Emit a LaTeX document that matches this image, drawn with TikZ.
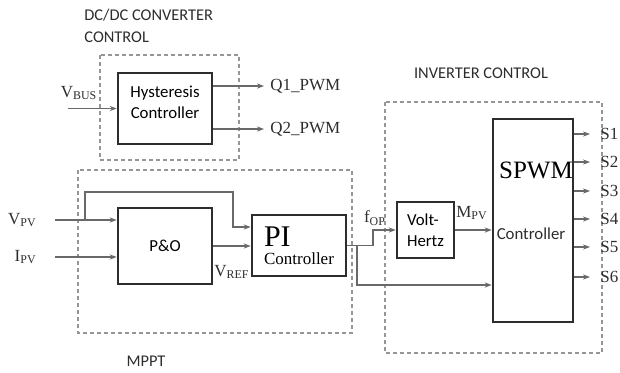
\documentclass[tikz,border=0pt]{standalone}
\usepackage{fontspec}
\setmainfont{Liberation Serif}
\setsansfont{Carlito}
\usetikzlibrary{arrows.meta,positioning,calc}
\definecolor{frameGray}{RGB}{150,150,150}
\definecolor{wireGray}{RGB}{105,105,105}
\definecolor{boxBlack}{RGB}{45,45,45}

\begin{document}
\begin{tikzpicture}[
    x=0.5pt, y=-0.5pt,
    box/.style={rectangle, draw=boxBlack, line width=1.3pt, inner sep=0pt, font=\fontsize{8.4}{10.5}\selectfont\sffamily},
    frame/.style={draw=frameGray, line width=1pt, dash pattern=on 2pt off 1.5pt},
    wire/.style={draw=wireGray, line width=0.55pt},
    arrow/.style={wire, -{Stealth[length=3.5pt, width=2.6pt]}},
    lbl/.style={font=\fontsize{8.5}{10}\selectfont, inner sep=0pt, text=boxBlack},
    title/.style={font=\fontsize{8.2}{11}\selectfont\sffamily, inner sep=0pt, align=left, text=boxBlack}
]
    \useasboundingbox (0,0) rectangle (620,372);
    % dashed group frames
    \draw[frame] (100,55) rectangle (239,160);
    \draw[frame] (78,170) rectangle (352,333);
    \draw[frame] (385,102) rectangle (602,353);
    \node[title, anchor=north west] (dctitle) at (84,9) {DC/DC CONVERTER\\CONTROL};
    \node[title] (invtitle) at (481,73) {INVERTER CONTROL};
    \node[title] (mppttitle) at (146,361) {MPPT};

    % blocks
    \node[box, minimum width=47pt, minimum height=35.5pt, align=center, text depth=6pt] (hyst) at (165,108.5) {Hysteresis\\Controller};
    \node[box, minimum width=47pt, minimum height=38pt] (pando) at (165,246) {P\&O};
    \node[box, minimum width=47pt, minimum height=30.5pt, align=left, font=\fontsize{8.5}{10}\selectfont\rmfamily] (pi) at (299,245.5) {{\fontsize{15}{15}\selectfont PI}\\[-1pt]Controller};
    \node[box, minimum width=28.5pt, minimum height=28pt, align=left] (vh) at (425.5,230) {Volt-\\Hertz};
    \node[box, minimum width=40pt, minimum height=101.5pt] (spwm) at (533,220.5) {};
    \node[inner sep=0pt, font=\fontsize{12.5}{12.5}\selectfont] (spwmtxt) at ($(spwm.center)+(3,-50)$) {SPWM};
    \node[inner sep=0pt, font=\fontsize{8.4}{10}\selectfont\sffamily, text=boxBlack] (spwmctl) at ($(spwm.center)+(-2,13)$) {Controller};

    % DC/DC signals
    \coordinate (vbusin) at (68,108.5);
    \draw[arrow] (vbusin) -- (hyst.west);
    \node[lbl] (vbus) at (79,93) {V\textsubscript{BUS}};
    \coordinate (q1end) at (264,86);
    \coordinate (q2end) at (264,129);
    \draw[arrow] (q1end -| hyst.east) -- (q1end);
    \draw[arrow] (q2end -| hyst.east) -- (q2end);
    \node[lbl, right=3pt of q1end] (q1) {Q1\_PWM};
    \node[lbl, right=3pt of q2end] (q2) {Q2\_PWM};

    % MPPT signals
    \coordinate (vpvin) at (55,220);
    \coordinate (ipvin) at (55,257);
    \draw[arrow] (vpvin) -- (vpvin -| pando.west);
    \draw[arrow] (ipvin) -- (ipvin -| pando.west);
    \node[lbl, left=9pt of vpvin] (vpv) {V\textsubscript{PV}};
    \node[lbl, left=9pt of ipvin] (ipv) {I\textsubscript{PV}};
    \coordinate (tap) at (85,220);
    \coordinate (fbtop) at (233,192);
    \draw[arrow] (tap) |- (fbtop) |- ($(pi.west)+(0,-18.5)$);
    \draw[arrow] (pando.east) -- (pando.east -| pi.west);
    \node[lbl] (vref) at (232,272) {V\textsubscript{REF}};

    % inverter signals
    \coordinate (fopturn) at (373,230);
    \coordinate (split) at (357,245.5);
    \draw[arrow] (pi.east) -| (fopturn) -- (vh.west);
    \draw[arrow] (split) |- ($(spwm.west)+(0,64.5)$);
    \node[lbl] (fop) at (375,218) {f\textsubscript{OP}};
    \draw[arrow] (vh.east) -- (vh.east -| spwm.west);
    \node[lbl] (mpv) at (472,213) {M\textsubscript{PV}};
    \foreach \i/\yy in {1/134,2/162,3/191,4/219,5/247,6/277} {
        \coordinate (s\i) at (590,\yy);
        \draw[arrow] (s\i -| spwm.east) -- (s\i);
        \node[lbl, right=5pt of s\i] (sl\i) {S\i};
    }
\end{tikzpicture}
\end{document}
